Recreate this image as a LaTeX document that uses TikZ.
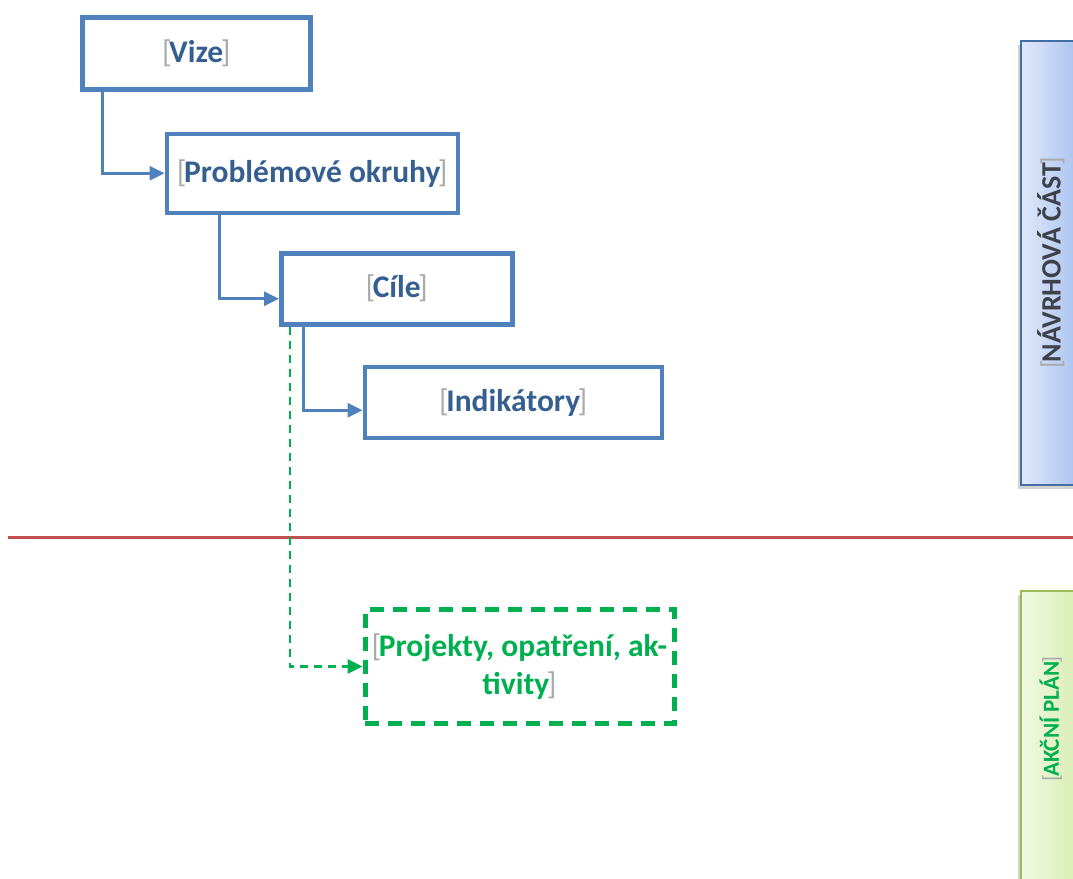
\documentclass[tikz,border=0pt]{standalone}
\usepackage{fontspec}
\setmainfont{Carlito}
\usetikzlibrary{arrows.meta, positioning, calc, shadows}
\definecolor{boxblue}{RGB}{79,129,189}
\definecolor{textblue}{RGB}{54,95,145}
\definecolor{plangreen}{RGB}{0,176,80}
\definecolor{linered}{RGB}{192,80,77}
\definecolor{fieldgray}{RGB}{170,170,170}
\definecolor{navrhleft}{RGB}{224,233,250}
\definecolor{navrhright}{RGB}{163,190,238}
\definecolor{planleft}{RGB}{241,249,226}
\definecolor{planright}{RGB}{214,236,174}
\definecolor{planborder}{RGB}{155,187,89}
\definecolor{sidetext}{RGB}{62,64,74}
\newcommand{\fldopen}{{\color{fieldgray}\mdseries[}\kern-0.08em}
\newcommand{\fldclose}{\kern-0.08em{\color{fieldgray}\mdseries]}}
\newcommand{\fld}[1]{\fldopen#1\fldclose}

\begin{document}
\begin{tikzpicture}[
    x=1pt, y=1pt,
    >={Triangle[length=15pt,width=14pt]},
    box/.style={rectangle, draw=boxblue, line width=4.5pt, text=textblue, align=center, font=\fontsize{31.5}{38}\selectfont\bfseries},
    planbox/.style={rectangle, draw=plangreen, line width=5pt, dash pattern=on 14pt off 9pt, text=plangreen, align=center, font=\fontsize{31.5}{38}\selectfont\bfseries},
    arrow/.style={->, line width=3pt, boxblue},
    planarrow/.style={->, line width=2.8pt, plangreen, dash pattern=on 8pt off 6pt},
    sidebar/.style={rectangle, minimum width=64pt, line width=1.5pt, drop shadow={shadow xshift=-3pt, shadow yshift=-4pt, opacity=0.35}},
    sidelabel/.style={rotate=90}
]
\useasboundingbox (0,0) rectangle (1073,-878);
\clip (0,0) rectangle (1073,-878);

% ========== HIERARCHY ==========
\node[box, minimum width=228pt, minimum height=72pt, anchor=north west] (vize) at (80,-15) {\fld{Vize}};

\node[box, minimum width=291pt, minimum height=79pt, below right=40pt and -148pt of vize] (prob) {\fld{Problémové okruhy}};

\node[box, minimum width=231pt, minimum height=71pt, below right=36pt and -181pt of prob] (cile) {\fld{Cíle}};

\node[box, minimum width=297pt, minimum height=71pt, below right=38pt and -152pt of cile] (indik) {\fld{Indikátory}};

% ========== ACTION PLAN ==========
\node[planbox, minimum width=309pt, minimum height=114pt, below=167pt of indik.south west, anchor=north west] (proj) {\fldopen Projekty, opatření, ak-\\tivity\fldclose};

% ========== SEPARATOR ==========
\coordinate (sepleft) at (8,-537);
\coordinate (sepright) at (1073,-537);
\draw[linered, line width=3pt] (sepleft) -- (sepright);

% ========== SIDE BARS ==========
\node[sidebar, minimum height=444pt, left color=navrhleft, right color=navrhright, draw=boxblue!85!black, anchor=north west] (navrh) at (1020,-40) {};
\node[sidelabel, text=sidetext, font=\fontsize{28}{32}\selectfont\bfseries] (navrhlabel) at ([xshift=-2pt]navrh.center) {\fld{NÁVRHOVÁ ČÁST}};

\node[sidebar, minimum height=320pt, left color=planleft, right color=planright, draw=planborder, anchor=north west] (akcni) at (1020,-590) {};
\node[sidelabel, text=plangreen, font=\fontsize{23}{27}\selectfont\bfseries] (akcnilabel) at ($(akcni.north)+(-2,-129)$) {\fld{AKČNÍ PLÁN}};

% ========== ARROWS ==========
\draw[arrow] ($(vize.south west)+(22,0)$) |- (prob.west);
\draw[arrow] ($(prob.south west)+(55,0)$) |- ([yshift=-10pt]cile.west);
\draw[arrow] ($(cile.south west)+(24,0)$) |- ([yshift=-8pt]indik.west);
\draw[planarrow] ($(cile.south west)+(11,0)$) |- (proj.west);

\end{tikzpicture}
\end{document}
